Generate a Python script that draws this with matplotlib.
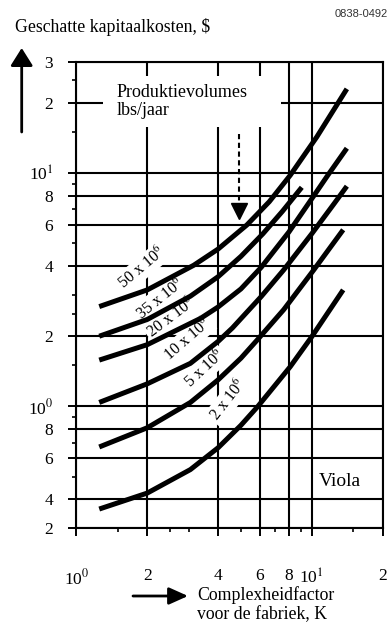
import matplotlib.pyplot as plt
from matplotlib.patches import Rectangle
from matplotlib.ticker import NullFormatter

plt.rcParams['font.family'] = ['Liberation Serif', 'DejaVu Serif']
plt.rcParams['mathtext.fontset'] = 'stix'

# complexiteitsfactor K en geschatte kapitaalkosten per productievolume
k_50 = [1.25, 2.0, 3.15, 4.0, 5.3, 6.6, 8.1, 10.5, 14.1]
cost_50 = [2.68, 3.16, 4.03, 4.73, 6.0, 7.55, 9.8, 14.3, 23.0]

k_35 = [1.25, 2.0, 3.05, 4.0, 5.0, 6.2, 7.5, 9.07]
cost_35 = [2.0, 2.36, 2.97, 3.6, 4.4, 5.5, 6.86, 8.7]

k_20 = [1.25, 2.0, 3.38, 4.0, 5.0, 6.1, 8.0, 10.2, 11.7, 14.1]
cost_20 = [1.58, 1.84, 2.39, 2.67, 3.19, 3.95, 5.6, 8.0, 9.8, 12.8]

k_10 = [1.25, 2.0, 3.05, 4.0, 4.6, 6.1, 7.6, 10.0, 12.5, 14.1]
cost_10 = [1.04, 1.25, 1.53, 1.90, 2.17, 2.96, 3.85, 5.5, 7.45, 8.8]

k_5 = [1.25, 2.0, 3.05, 4.0, 5.0, 5.9, 7.6, 10.2, 13.6]
cost_5 = [0.67, 0.81, 1.04, 1.30, 1.61, 1.94, 2.6, 3.85, 5.72]

k_2 = [1.25, 2.0, 3.05, 4.0, 5.0, 5.9, 8.1, 10.0, 13.6]
cost_2 = [0.363, 0.425, 0.536, 0.665, 0.83, 1.0, 1.48, 1.99, 3.16]

curve_labels = ["50 x 10$^6$", "35 x 10$^6$", "20 x 10$^6$",
                "10 x 10$^6$", "5 x 10$^6$", "2 x 10$^6$"]
label_k = [1.9, 2.26, 2.53, 2.97, 3.51, 4.41]
label_cost = [3.92, 2.89, 2.40, 1.93, 1.45, 1.06]
label_rot = [40, 39, 37, 41, 43, 52]

x_ticks = [1, 2, 4, 6, 8, 10, 20]
x_ticklabels = ["10$^0$", "2", "4", "6", "8", "10$^1$", "2"]
x_minor = [1.5, 2.5, 3, 5, 7, 9, 15]
y_ticks = [0.3, 0.4, 0.6, 0.8, 1, 2, 4, 6, 8, 10, 20, 30]
y_ticklabels = ["2", "4", "6", "8", "10$^0$", "2", "4", "6", "8", "10$^1$", "2", "3"]
y_minor = [0.5, 0.7, 0.9, 1.5, 2.5, 3, 5, 7, 9, 15, 25]

fig = plt.figure(figsize=(3.9, 6.26), dpi=100)
ax = fig.add_axes([0.196, 0.156, 0.785, 0.745])
ax.set_xscale('log')
ax.set_yscale('log')
ax.set_xlim(1, 20)
ax.set_ylim(0.3, 30)

ax.set_xticks(x_ticks)
ax.set_xticklabels(x_ticklabels)
ax.set_xticks(x_minor, minor=True)
ax.set_yticks(y_ticks)
ax.set_yticklabels(y_ticklabels)
ax.set_yticks(y_minor, minor=True)
ax.xaxis.set_minor_formatter(NullFormatter())
ax.yaxis.set_minor_formatter(NullFormatter())

ax.xaxis.set_tick_params(which='major', direction='out', length=5.8, width=1.4,
                         labelsize=12.5, pad=23)
ax.yaxis.set_tick_params(which='major', direction='out', length=5.8, width=1.4,
                         labelsize=12.5, pad=11)
ax.tick_params(which='minor', direction='out', length=2.9, width=1.2)
for s in ax.spines.values():
    s.set_linewidth(1.5)

ax.set_axisbelow(True)
ax.grid(which='major', color='black', lw=1.5)

curves = [(k_50, cost_50), (k_35, cost_35), (k_20, cost_20),
          (k_10, cost_10), (k_5, cost_5), (k_2, cost_2)]
for k, c in curves:
    ax.plot(k, c, color='black', lw=3.6, solid_capstyle='butt',
            solid_joinstyle='round', zorder=4)

for lab, lk, lc, r in zip(curve_labels, label_k, label_cost, label_rot):
    ax.text(lk, lc, lab, rotation=r, rotation_mode='anchor', ha='center',
            va='center', fontsize=11.5,
            bbox=dict(facecolor='white', edgecolor='none', pad=1.5), zorder=3)

# legenda-blok productievolumes
ax.add_patch(Rectangle((1.295, 15.8), 7.39 - 1.295, 26.2 - 15.8,
                       facecolor='white', edgecolor='none', zorder=2.5))
ax.text(1.485, 22.3, "Produktievolumes", fontsize=13, va='center', zorder=3)
ax.text(1.485, 18.5, "lbs/jaar", fontsize=13, va='center', zorder=3)
ax.plot([4.9, 4.9], [14.8, 7.5], color='black', lw=1.5,
        ls=(0, (2.5, 1.7)), zorder=3)
ax.plot(4.9, 6.9, marker='v', markersize=11, color='black', zorder=3)

ax.text(10.7, 0.475, "Viola", fontsize=14, va='center', zorder=3)

fig.text(15 / 390, 1 - 27 / 626, "Geschatte kapitaalkosten, \\$", fontsize=12.8,
         va='center')
fig.text(388 / 390, 1 - 14 / 626, "0838-0492", fontsize=8, ha='right',
         va='center', family='Liberation Sans', color='#333333')
fig.text(197 / 390, 1 - 595 / 626, "Complexheidfactor", fontsize=12.8, va='center')
fig.text(197 / 390, 1 - 615 / 626, "voor de fabriek, K", fontsize=12.8, va='center')

ax.annotate('', xy=(21.7, 626 - 48), xytext=(21.7, 626 - 132),
            xycoords='figure pixels', textcoords='figure pixels',
            arrowprops=dict(arrowstyle='-|>,head_length=0.54,head_width=0.34',
                            mutation_scale=20, lw=2, color='black',
                            shrinkA=0, shrinkB=0),
            annotation_clip=False)
ax.annotate('', xy=(188, 626 - 596), xytext=(133, 626 - 596),
            xycoords='figure pixels', textcoords='figure pixels',
            arrowprops=dict(arrowstyle='-|>,head_length=0.58,head_width=0.26',
                            mutation_scale=20, lw=2, color='black',
                            shrinkA=0, shrinkB=0),
            annotation_clip=False)

fig.savefig("out.png", dpi=100)
